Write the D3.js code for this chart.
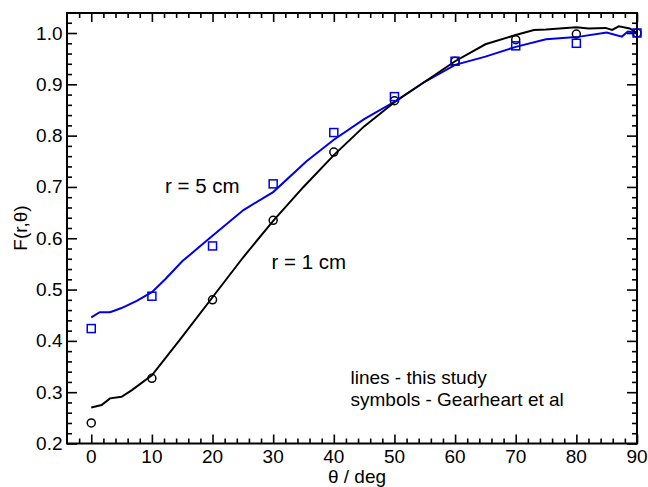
<!DOCTYPE html>
<html>
<head>
<meta charset="utf-8">
<script src="https://cdn.jsdelivr.net/npm/d3@7"></script>
<style>
  body { margin: 0; background: #fff; }
  text { font-family: "Liberation Sans", Arial, sans-serif; }
</style>
</head>
<body>
<svg id="chart" width="648" height="487"></svg>
<script>
"use strict";

// symbols - Gearheart et al
const symbolAngles = [0, 10, 20, 30, 40, 50, 60, 70, 80, 90];
const circles1cm = [0.240, 0.327, 0.480, 0.635, 0.768, 0.868, 0.945, 0.987, 0.998, 1.000];
const squares5cm = [0.424, 0.487, 0.585, 0.706, 0.806, 0.876, 0.945, 0.975, 0.980, 1.000];

// lines - this study
const lineAngles1cm = [0, 1.7, 3.1, 5, 6.7, 10, 14.6, 20, 25, 30, 35, 40, 45, 50, 55, 60, 65, 70, 73, 75, 80, 82, 84.8, 85.9, 87, 88.8, 90];
const line1cm = [0.270, 0.275, 0.288, 0.291, 0.304, 0.333, 0.402, 0.485, 0.562, 0.634, 0.700, 0.762, 0.818, 0.865, 0.905, 0.945, 0.978, 0.996, 1.006, 1.007, 1.011, 1.009, 1.010, 1.006, 1.013, 1.009, 1.000];

const lineAngles5cm = [0, 1.4, 3.1, 5, 7.5, 10, 12.2, 15, 19.6, 25.1, 30, 35.5, 40, 45, 50, 55, 60, 65, 70, 75, 80, 85, 87.5, 88.5, 90];
const line5cm = [0.446, 0.456, 0.456, 0.464, 0.478, 0.495, 0.520, 0.555, 0.601, 0.655, 0.690, 0.750, 0.792, 0.832, 0.866, 0.905, 0.938, 0.954, 0.973, 0.988, 0.992, 1.001, 0.993, 1.003, 1.000];

const xTicks = [0, 10, 20, 30, 40, 50, 60, 70, 80, 90];
const yTicks = [0.2, 0.3, 0.4, 0.5, 0.6, 0.7, 0.8, 0.9, 1.0];

const plotLeft = 67, plotRight = 637, plotTop = 13, plotBottom = 443.5;

const svg = d3.select("#chart");

const x = d3.scaleLinear().domain([-4, 90]).range([plotLeft, plotRight]);
const y = d3.scaleLinear().domain([0.2, 1.039]).range([plotBottom, plotTop]);

const xMinor = d3.range(-2, 90, 2).filter(d => d % 10 !== 0);
const yMinor = d3.range(0.22, 1.04, 0.02).filter(d => Math.abs(d * 10 - Math.round(d * 10)) > 0.01);

// ticks pointing inward on all four sides
function tickAxis(axisFn, scale, vals, size, pos) {
  return svg.append("g")
    .attr("transform", pos)
    .call(axisFn(scale).tickValues(vals).tickSize(size).tickFormat(""))
    .call(g => g.select(".domain").remove())
    .call(g => g.selectAll("line").attr("stroke", "#000").attr("stroke-width", 1.6));
}

tickAxis(d3.axisTop, x, xTicks, 9, `translate(0,${plotBottom})`);
tickAxis(d3.axisTop, x, xMinor, 5, `translate(0,${plotBottom})`);
tickAxis(d3.axisBottom, x, xTicks, 9, `translate(0,${plotTop})`);
tickAxis(d3.axisBottom, x, xMinor, 5, `translate(0,${plotTop})`);
tickAxis(d3.axisRight, y, yTicks, 10, `translate(${plotLeft},0)`);
tickAxis(d3.axisRight, y, yMinor, 5, `translate(${plotLeft},0)`);
tickAxis(d3.axisLeft, y, yTicks, 10, `translate(${plotRight},0)`);
tickAxis(d3.axisLeft, y, yMinor, 5, `translate(${plotRight},0)`);

// tick labels
svg.append("g").selectAll("text")
  .data(xTicks).enter().append("text")
  .attr("x", d => x(d))
  .attr("y", 462.5)
  .attr("text-anchor", "middle")
  .attr("font-size", 19)
  .text(d => d);

svg.append("g").selectAll("text")
  .data(yTicks).enter().append("text")
  .attr("x", 62.5)
  .attr("y", d => y(d) + 6.5)
  .attr("text-anchor", "end")
  .attr("font-size", 19)
  .text(d => d.toFixed(1));

// frame
svg.append("rect")
  .attr("x", plotLeft).attr("y", plotTop)
  .attr("width", plotRight - plotLeft).attr("height", plotBottom - plotTop)
  .attr("fill", "none").attr("stroke", "#000").attr("stroke-width", 2);

const line = d3.line().x(d => x(d[0])).y(d => y(d[1]));

svg.append("path")
  .datum(d3.zip(lineAngles5cm, line5cm))
  .attr("d", line)
  .attr("fill", "none").attr("stroke", "#0000e6").attr("stroke-width", 2);

svg.append("path")
  .datum(d3.zip(lineAngles1cm, line1cm))
  .attr("d", line)
  .attr("fill", "none").attr("stroke", "#000").attr("stroke-width", 2);

svg.append("g").selectAll("circle")
  .data(d3.zip(symbolAngles, circles1cm)).enter().append("circle")
  .attr("cx", d => x(d[0])).attr("cy", d => y(d[1]))
  .attr("r", 4)
  .attr("fill", "none").attr("stroke", "#000").attr("stroke-width", 1.5);

svg.append("g").selectAll("rect")
  .data(d3.zip(symbolAngles, squares5cm)).enter().append("rect")
  .attr("x", d => x(d[0]) - 4).attr("y", d => y(d[1]) - 4)
  .attr("width", 8).attr("height", 8)
  .attr("fill", "none").attr("stroke", "#0000e6").attr("stroke-width", 1.5);

// labels
svg.append("text")
  .attr("x", 357).attr("y", 483)
  .attr("text-anchor", "middle").attr("font-size", 19)
  .text("θ / deg");

svg.append("text")
  .attr("transform", "translate(27,228) rotate(-90)")
  .attr("text-anchor", "middle").attr("font-size", 19)
  .text("F(r,θ)");

svg.append("text").attr("x", 165).attr("y", 192.5).attr("font-size", 20.5).text("r = 5 cm");
svg.append("text").attr("x", 271.5).attr("y", 269).attr("font-size", 20.5).text("r = 1 cm");

// legend note, two lines
svg.append("text").attr("x", 350.5).attr("y", 383.5).attr("font-size", 19).text("lines - this study");
svg.append("text").attr("x", 350.5).attr("y", 405.5).attr("font-size", 19).text("symbols - Gearheart et al");
</script>
</body>
</html>
